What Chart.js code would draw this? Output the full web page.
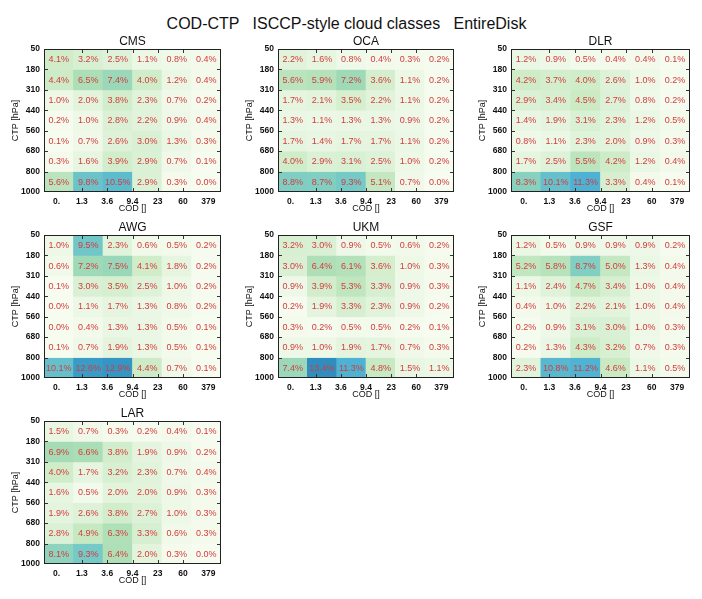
<!DOCTYPE html>
<html><head><meta charset="utf-8">
<script src="https://cdn.jsdelivr.net/npm/chart.js@4.4.0/dist/chart.umd.min.js"></script>
<style>
body{margin:0;background:#fff;width:702px;height:599px;position:relative;overflow:hidden;font-family:"Liberation Sans",Arial,sans-serif}
#title{position:absolute;left:0;width:693px;top:16px;line-height:16px;text-align:center;font-size:16px;white-space:pre;color:#111}
canvas{position:absolute}
</style></head><body>
<div id="title">COD-CTP   ISCCP-style cloud classes   EntireDisk</div>
<script>
// ---------- data ----------
const codLabels = ['0.', '1.3', '3.6', '9.4', '23', '60', '379'];
const ctpLabels = ['1000', '800', '680', '560', '440', '310', '180', '50']; // bottom to top
const panelNames = ['CMS', 'OCA', 'DLR', 'AWG', 'UKM', 'GSF', 'LAR'];
// rows listed top (50-180 hPa) to bottom (800-1000 hPa), columns COD bins left to right
const cms = [
  [4.1, 3.2, 2.5, 1.1, 0.8, 0.4],
  [4.4, 6.5, 7.4, 4.0, 1.2, 0.4],
  [1.0, 2.0, 3.8, 2.3, 0.7, 0.2],
  [0.2, 1.0, 2.8, 2.2, 0.9, 0.4],
  [0.1, 0.7, 2.6, 3.0, 1.3, 0.3],
  [0.3, 1.6, 3.9, 2.9, 0.7, 0.1],
  [5.6, 9.8, 10.5, 2.9, 0.3, 0.0]
];
const oca = [
  [2.2, 1.6, 0.8, 0.4, 0.3, 0.2],
  [5.6, 5.9, 7.2, 3.6, 1.1, 0.2],
  [1.7, 2.1, 3.5, 2.2, 1.1, 0.2],
  [1.3, 1.1, 1.3, 1.3, 0.9, 0.2],
  [1.7, 1.4, 1.7, 1.7, 1.1, 0.2],
  [4.0, 2.9, 3.1, 2.5, 1.0, 0.2],
  [8.8, 8.7, 9.3, 5.1, 0.7, 0.0]
];
const dlr = [
  [1.2, 0.9, 0.5, 0.4, 0.4, 0.1],
  [4.2, 3.7, 4.0, 2.6, 1.0, 0.2],
  [2.9, 3.4, 4.5, 2.7, 0.8, 0.2],
  [1.4, 1.9, 3.1, 2.3, 1.2, 0.5],
  [0.8, 1.1, 2.3, 2.0, 0.9, 0.3],
  [1.7, 2.5, 5.5, 4.2, 1.2, 0.4],
  [8.3, 10.1, 11.3, 3.3, 0.4, 0.1]
];
const awg = [
  [1.0, 9.5, 2.3, 0.6, 0.5, 0.2],
  [0.6, 7.2, 7.5, 4.1, 1.8, 0.2],
  [0.1, 3.0, 3.5, 2.5, 1.0, 0.2],
  [0.0, 1.1, 1.7, 1.3, 0.8, 0.2],
  [0.0, 0.4, 1.3, 1.3, 0.5, 0.1],
  [0.1, 0.7, 1.9, 1.3, 0.5, 0.1],
  [10.1, 12.6, 12.9, 4.4, 0.7, 0.1]
];
const ukm = [
  [3.2, 3.0, 0.9, 0.5, 0.6, 0.2],
  [3.0, 6.4, 6.1, 3.6, 1.0, 0.3],
  [0.9, 3.9, 5.3, 3.3, 0.9, 0.3],
  [0.2, 1.9, 3.3, 2.3, 0.9, 0.2],
  [0.3, 0.2, 0.5, 0.5, 0.2, 0.1],
  [0.9, 1.0, 1.9, 1.7, 0.7, 0.3],
  [7.4, 13.4, 11.3, 4.8, 1.5, 1.1]
];
const gsf = [
  [1.2, 0.5, 0.9, 0.9, 0.9, 0.2],
  [5.2, 5.8, 8.7, 5.0, 1.3, 0.4],
  [1.1, 2.4, 4.7, 3.4, 1.0, 0.4],
  [0.4, 1.0, 2.2, 2.1, 1.0, 0.4],
  [0.2, 0.9, 3.1, 3.0, 1.0, 0.3],
  [0.2, 1.3, 4.3, 3.2, 0.7, 0.3],
  [2.3, 10.8, 11.2, 4.6, 1.1, 0.5]
];
const lar = [
  [1.5, 0.7, 0.3, 0.2, 0.4, 0.1],
  [6.9, 6.6, 3.8, 1.9, 0.9, 0.2],
  [4.0, 1.7, 3.2, 2.3, 0.7, 0.4],
  [1.6, 0.5, 2.0, 2.0, 0.9, 0.3],
  [1.9, 2.6, 3.8, 2.7, 1.0, 0.3],
  [2.8, 4.9, 6.3, 3.3, 0.6, 0.3],
  [8.1, 9.3, 6.4, 2.0, 0.3, 0.0]
];
const panelValues = [cms, oca, dlr, awg, ukm, gsf, lar];

// ---------- style ----------
const FONT = '"Liberation Sans", Arial, sans-serif';
const gnbu = [[247,252,240],[224,243,219],[204,235,197],[168,221,181],[123,204,196],[78,179,211],[43,140,190],[8,104,172],[8,64,129]];
const vmax = 18;
function cellColor(v) {
  let t = Math.min(Math.max(v / vmax, 0), 1) * (gnbu.length - 1);
  const i = Math.min(Math.floor(t), gnbu.length - 2);
  const f = t - i, a = gnbu[i], b = gnbu[i + 1];
  const c = a.map((x, k) => Math.round(x + (b[k] - x) * f));
  return 'rgb(' + c.join(',') + ')';
}
const plotLefts = [44, 278, 511], plotWidths = [177, 176, 179], plotTops = [49, 235, 421];
const PH = 143, YAXW = 44, TITLEH = 17, XAXH = 22, PADR = 10;
const dottedAt = v => v === 2 || v === 4;

const framePlugin = {
  id: 'frameAndLabels',
  afterDraw(chart) {
    const ctx = chart.ctx, a = chart.chartArea;
    const xs = chart.scales.x2, ys = chart.scales.y;
    ctx.save();
    // inward tick marks
    ctx.strokeStyle = '#333'; ctx.lineWidth = 1;
    ctx.beginPath();
    for (let j = 1; j < codLabels.length - 1; j++) {
      const px = Math.round(xs.getPixelForValue(j)) + 0.5;
      ctx.moveTo(px, a.bottom); ctx.lineTo(px, a.bottom - 4);
      ctx.moveTo(px, a.top); ctx.lineTo(px, a.top + 4);
    }
    for (let r = 1; r < ctpLabels.length - 1; r++) {
      const py = Math.round(ys.getPixelForValue(r)) + 0.5;
      ctx.moveTo(a.left, py); ctx.lineTo(a.left + 4, py);
      ctx.moveTo(a.right, py); ctx.lineTo(a.right - 4, py);
    }
    ctx.stroke();
    // frame
    ctx.strokeStyle = '#222';
    ctx.strokeRect(a.left + 0.5, a.top + 0.5, a.right - a.left - 1, a.bottom - a.top - 1);
    // cell values
    ctx.fillStyle = '#d63a3c';
    ctx.font = '9px ' + FONT;
    ctx.textAlign = 'center'; ctx.textBaseline = 'middle';
    chart.data.datasets.forEach((ds, di) => {
      const meta = chart.getDatasetMeta(di);
      meta.data.forEach((el, k) => {
        const v = ds.vals[k];
        ctx.fillText(v.toFixed(1) + '%', el.x, (el.y + el.base) / 2 + 0.5);
      });
    });
    ctx.restore();
  }
};

panelNames.forEach((name, i) => {
  const col = i % 3, row = Math.floor(i / 3);
  const values = panelValues[i];
  const pw = plotWidths[col];
  const cv = document.createElement('canvas');
  const W = YAXW + pw + PADR, H = TITLEH + PH + XAXH;
  cv.width = W; cv.height = H;
  cv.style.width = W + 'px'; cv.style.height = H + 'px';
  cv.style.left = (plotLefts[col] - YAXW) + 'px';
  cv.style.top = (plotTops[row] - TITLEH) + 'px';
  document.body.appendChild(cv);
  const nRows = values.length;
  new Chart(cv, {
    type: 'bar',
    data: {
      labels: codLabels.slice(0, -1).map((c, j) => c + '-' + codLabels[j + 1]),
      datasets: values.map((rowVals, r) => ({
        data: rowVals.map(() => [nRows - 1 - r, nRows - r]),
        vals: rowVals,
        backgroundColor: rowVals.map(cellColor),
        borderWidth: 0,
        barPercentage: 1,
        categoryPercentage: 1,
        xAxisID: 'x',
        yAxisID: 'y'
      }))
    },
    options: {
      responsive: false,
      animation: false,
      devicePixelRatio: 1,
      layout: { padding: { left: 0, right: PADR, top: 0, bottom: 0 } },
      plugins: {
        legend: { display: false },
        tooltip: { enabled: false },
        title: {
          display: true, text: name, fullSize: false, color: '#111',
          font: { family: FONT, size: 12, weight: 'normal', lineHeight: '13px' },
          padding: { top: 3, bottom: 1 }
        }
      },
      scales: {
        x: { type: 'category', display: false, stacked: true, offset: true },
        x2: {
          type: 'linear', position: 'bottom', min: 0, max: codLabels.length - 1, z: 1,
          afterFit: s => { s.height = XAXH; },
          ticks: { stepSize: 1, autoSkip: false, maxRotation: 0, padding: 5, color: '#111',
                   font: { family: FONT, size: 8.5, weight: 'bold' },
                   callback: v => codLabels[v] },
          grid: { drawTicks: false, lineWidth: 1,
                  color: c => (c.tick && dottedAt(c.tick.value)) ? '#333' : 'rgba(0,0,0,0)' },
          border: { display: false, dash: [2, 3] },
          title: { display: true, text: 'COD []', color: '#111', padding: { top: 0, bottom: 0 },
                   font: { family: FONT, size: 9 } }
        },
        y: {
          type: 'linear', min: 0, max: ctpLabels.length - 1, z: 1,
          afterFit: s => { s.width = YAXW; },
          ticks: { stepSize: 1, autoSkip: false, padding: 4, color: '#111',
                   font: { family: FONT, size: 8.5, weight: 'bold' },
                   callback: v => ctpLabels[v] },
          grid: { drawTicks: false, lineWidth: 1,
                  color: c => (c.tick && dottedAt(c.tick.value)) ? '#333' : 'rgba(0,0,0,0)' },
          border: { display: false, dash: [2, 3] },
          title: { display: true, text: 'CTP [hPa]', color: '#111', padding: { top: 10, bottom: 0 },
                   font: { family: FONT, size: 9 } }
        }
      }
    },
    plugins: [framePlugin]
  });
});
</script>
</body></html>
